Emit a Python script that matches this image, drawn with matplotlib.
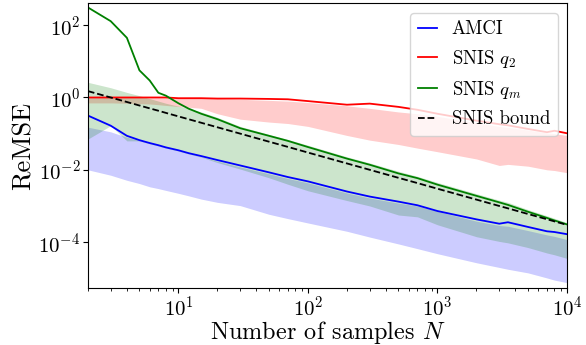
import numpy as np
import matplotlib
matplotlib.use("Agg")
import matplotlib.pyplot as plt
from matplotlib.ticker import NullLocator

plt.rcParams["font.family"] = "serif"
plt.rcParams["font.serif"] = ["cmr10"]
plt.rcParams["mathtext.fontset"] = "cm"
plt.rcParams["axes.formatter.use_mathtext"] = True

# number of samples
n_samples = [2, 3, 4, 5, 6, 7, 8, 10, 12, 15, 20, 30, 50, 70, 100, 200, 300,
             500, 700, 1000, 2000, 3000, 3500, 5000, 7000, 8000, 10000]

# log10 of ReMSE
amci_log = [-0.5, -0.78, -1.06, -1.18, -1.26, -1.32, -1.38, -1.46, -1.54, -1.62,
            -1.73, -1.88, -2.07, -2.2, -2.32, -2.6, -2.74, -2.88, -2.98, -3.14,
            -3.37, -3.49, -3.45, -3.58, -3.7, -3.72, -3.78]
amci_hi_log = [-0.82, -0.95, -1.1, -1.19, -1.27, -1.33, -1.39, -1.47, -1.55, -1.64,
               -1.76, -1.92, -2.11, -2.24, -2.36, -2.64, -2.78, -2.92, -3.0, -3.15,
               -3.42, -3.54, -3.56, -3.68, -3.8, -3.84, -3.93]
amci_lo_log = [-2.0, -2.15, -2.29, -2.38, -2.47, -2.52, -2.57, -2.65, -2.72, -2.81,
               -2.9, -2.99, -3.23, -3.35, -3.47, -3.7, -3.86, -4.05, -4.18, -4.32,
               -4.57, -4.7, -4.75, -4.85, -4.99, -5.05, -5.12]

q2_log = [0.0, 0.0, 0.0, 0.0, 0.0, 0.0, 0.0, -0.02, -0.02, -0.02, -0.03, -0.03,
          -0.04, -0.05, -0.1, -0.2, -0.17, -0.26, -0.34, -0.45, -0.64, -0.74,
          -0.77, -0.87, -0.96, -0.92, -0.99]
q2_hi_log = [0.0, 0.0, 0.0, 0.0, -0.01, -0.01, -0.01, -0.02, -0.02, -0.03, -0.03,
             -0.05, -0.08, -0.1, -0.14, -0.23, -0.3, -0.4, -0.45, -0.52, -0.7,
             -0.8, -0.83, -0.9, -0.98, -1.0, -1.05]
q2_lo_log = [-0.15, -0.15, -0.16, -0.17, -0.18, -0.2, -0.22, -0.25, -0.27, -0.3,
             -0.45, -0.6, -0.68, -0.72, -0.8, -1.05, -1.18, -1.3, -1.4, -1.5,
             -1.7, -1.88, -1.85, -1.9, -2.0, -2.02, -2.08]

qm_log = [2.49, 2.11, 1.65, 0.75, 0.47, 0.13, 0.05, -0.16, -0.31, -0.45, -0.6,
          -0.85, -1.06, -1.2, -1.37, -1.69, -1.86, -2.1, -2.23, -2.41, -2.72,
          -2.9, -2.97, -3.16, -3.33, -3.4, -3.51]
qm_hi_log = [0.42, 0.27, 0.14, 0.05, -0.03, -0.1, -0.16, -0.24, -0.3, -0.4, -0.55,
             -0.8, -1.02, -1.16, -1.32, -1.64, -1.81, -2.04, -2.18, -2.35, -2.66,
             -2.84, -2.9, -3.1, -3.27, -3.34, -3.46]
qm_lo_log = [-1.15, -0.78, -1.2, -1.2, -1.28, -1.34, -1.4, -1.48, -1.56, -1.65,
             -1.8, -1.98, -2.22, -2.4, -2.58, -2.85, -3.0, -3.25, -3.3, -3.52,
             -3.85, -3.98, -4.02, -4.15, -4.3, -4.35, -4.45]

bound = [1.5, 1.0, 0.75, 0.6, 0.5, 0.43, 0.375, 0.3, 0.25, 0.2, 0.15, 0.1, 0.06,
         0.043, 0.03, 0.015, 0.01, 0.006, 0.0043, 0.003, 0.0015, 0.001, 0.00086,
         0.0006, 0.00043, 0.000375, 0.0003]


def p(v):
    return 10 ** np.array(v)


fig, ax = plt.subplots(figsize=(5.86, 3.45), dpi=100)
fig.subplots_adjust(left=0.150, right=0.9676, top=0.990, bottom=0.165)

ax.fill_between(n_samples, p(amci_lo_log), p(amci_hi_log), color="b", alpha=0.2, lw=0)
ax.fill_between(n_samples, p(q2_lo_log), p(q2_hi_log), color="r", alpha=0.2, lw=0)
ax.fill_between(n_samples, p(qm_lo_log), p(qm_hi_log), color="g", alpha=0.2, lw=0)

ax.plot(n_samples, p(amci_log), color="b", lw=1.3, label="AMCI")
ax.plot(n_samples, p(q2_log), color="r", lw=1.3, label="SNIS $q_2$")
ax.plot(n_samples, p(qm_log), color="g", lw=1.3, label="SNIS $q_m$")
ax.plot(n_samples, bound, "k--", lw=1.3, label="SNIS bound")

ax.set_xscale("log")
ax.set_yscale("log")
ax.set_xlim(2, 1e4)
ax.set_ylim(10 ** -5.27, 10 ** 2.6)
ax.set_yticks([1e-4, 1e-2, 1e0, 1e2])
ax.yaxis.set_minor_locator(NullLocator())
ax.tick_params(labelsize=15, pad=2)

ax.set_xlabel("Number of samples $N$", fontsize=17.5, labelpad=-1)
ax.set_ylabel("ReMSE", fontsize=19, labelpad=2)
ax.legend(loc="upper right", fontsize=13.5, handlelength=1.0, labelspacing=0.5)

fig.savefig("out.png", dpi=100)
